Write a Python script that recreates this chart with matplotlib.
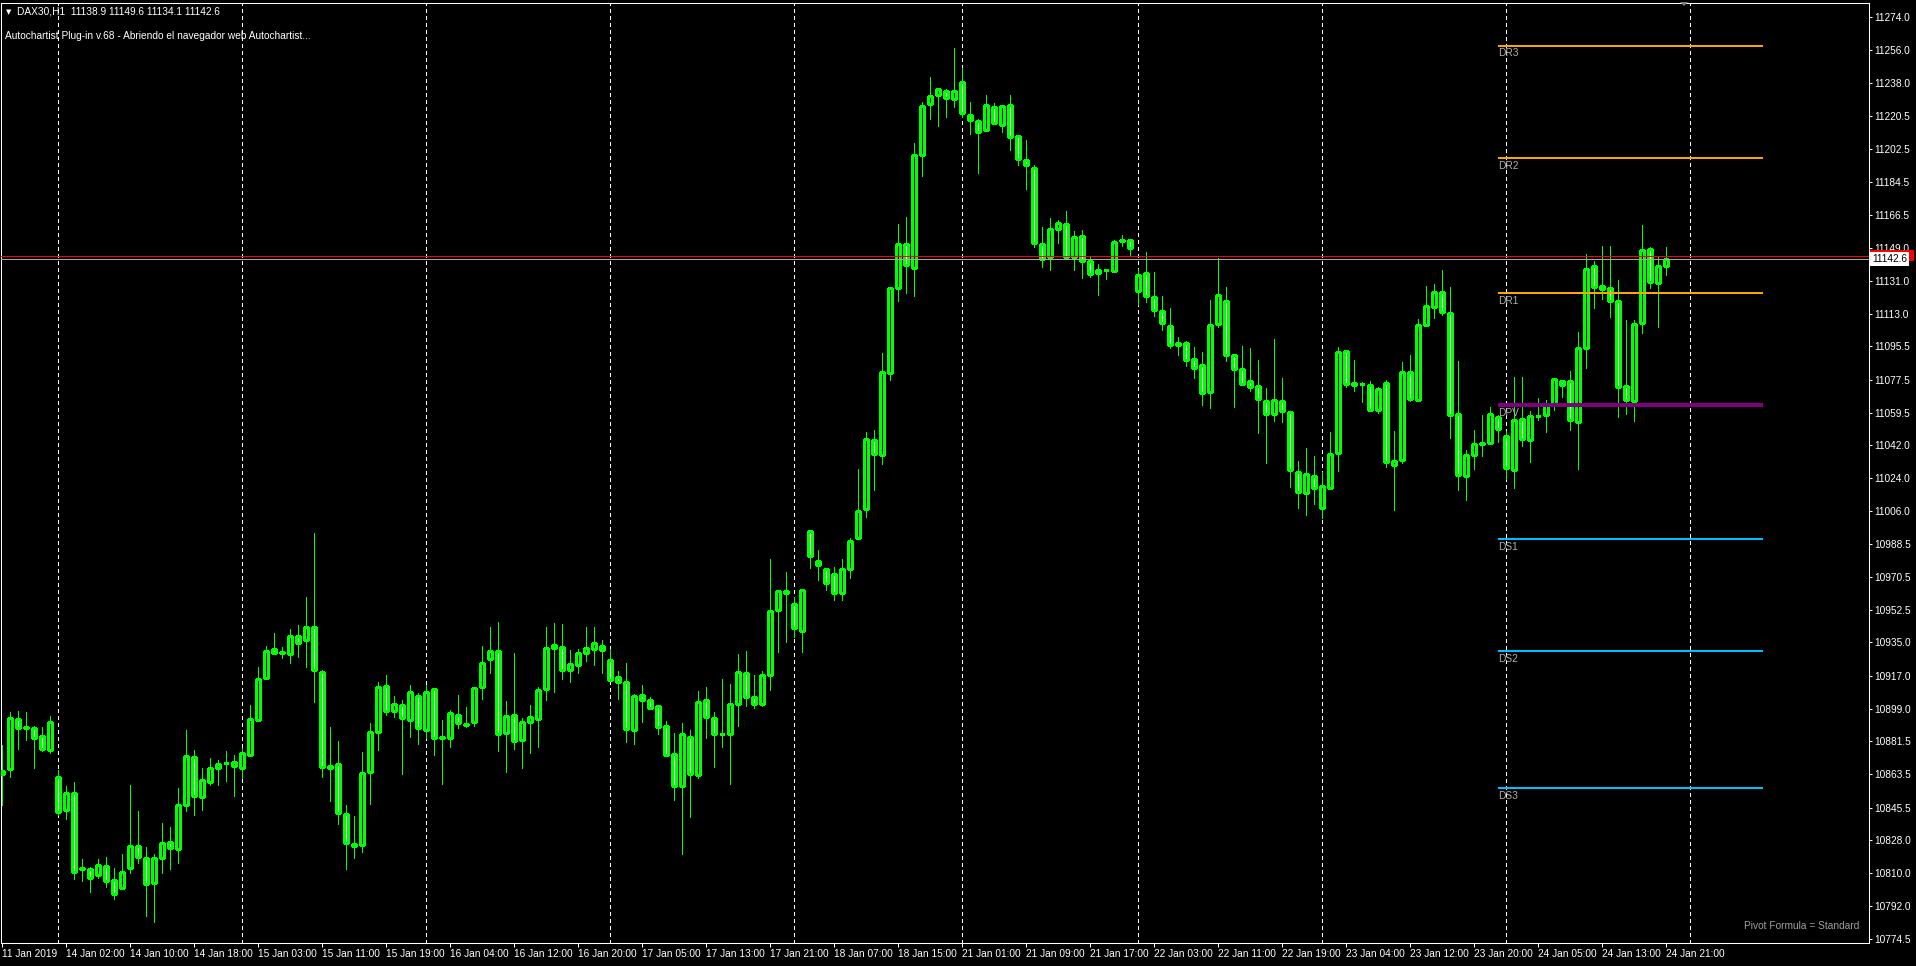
import numpy as np
import matplotlib.pyplot as plt
from matplotlib.patches import Rectangle
from matplotlib.transforms import blended_transform_factory

plt.rcParams['font.family'] = ['Liberation Sans', 'DejaVu Sans']

W, H = 1916, 966

# DAX30 H1 candles, 11 Jan 2019 16:00 .. 24 Jan 2019 21:00
opens = [
    10863.5, 10866.2, 10893.3, 10889.2, 10888.5, 10884.1, 10876.5, 10861.9, 10844.0, 10853.2,
    10812.6, 10812.0, 10809.1, 10813.6, 10806.1, 10801.7, 10812.6, 10824.5, 10818.0, 10804.4,
    10818.0, 10826.6, 10822.9, 10846.7, 10872.7, 10851.0, 10859.5, 10866.8, 10869.4, 10867.8,
    10867.1, 10873.8, 10892.8, 10915.6, 10931.3, 10929.6, 10928.6, 10938.3, 10936.1, 10943.2,
    10918.8, 10867.8, 10868.9, 10841.8, 10825.6, 10825.0, 10864.6, 10886.3, 10911.2, 10897.7,
    10900.9, 10893.2, 10906.2, 10887.6, 10909.6, 10883.6, 10883.4, 10895.9, 10890.6, 10891.7,
    10910.8, 10925.9, 10930.1, 10885.8, 10895.9, 10881.9, 10891.7, 10893.5, 10909.6, 10932.2,
    10932.7, 10920.3, 10922.6, 10929.5, 10931.5, 10933.0, 10925.6, 10916.1, 10913.7, 10887.6,
    10906.3, 10903.9, 10900.3, 10889.9, 10874.8, 10857.2, 10884.0, 10863.2, 10903.9, 10893.8,
    10885.5, 10885.5, 10901.8, 10918.2, 10905.7, 10901.8, 10917.6, 10952.4, 10961.9, 10955.9,
    10941.4, 10995.2, 10979.4, 10974.9, 10972.0, 10962.0, 10975.0, 10991.4, 11007.1, 11044.5,
    11036.4, 11081.0, 11126.9, 11150.8, 11137.8, 11199.0, 11226.7, 11231.5, 11233.7, 11229.4,
    11238.6, 11220.7, 11217.4, 11212.6, 11225.0, 11215.3, 11226.1, 11209.3, 11196.3, 11192.0,
    11150.8, 11143.7, 11158.9, 11161.6, 11143.7, 11155.1, 11141.6, 11135.1, 11137.1, 11136.1,
    11152.9, 11153.0, 11125.3, 11135.1, 11122.1, 11114.5, 11106.3, 11096.0, 11097.1, 11088.5,
    11085.2, 11070.5, 11107.4, 11119.9, 11090.6, 11083.0, 11076.5, 11073.8, 11065.9, 11058.6,
    11065.7, 11059.7, 11027.2, 11015.8, 11025.0, 11008.0, 11018.5, 11037.5, 11092.8, 11075.4,
    11075.2, 11074.3, 11061.2, 11075.4, 11031.0, 11033.7, 11081.4, 11066.2, 11106.9, 11116.6,
    11124.8, 11113.4, 11058.6, 11025.0, 11036.4, 11043.0, 11042.9, 11057.0, 11046.7, 11028.3,
    11055.9, 11044.5, 11057.8, 11058.1, 11064.1, 11076.5, 11076.5, 11054.3, 11094.4, 11138.8,
    11128.0, 11126.9, 11119.9, 11073.8, 11065.7, 11108.0, 11148.1, 11129.6, 11138.9,
]
highs = [
    10879.4, 10897.3, 10897.8, 10897.3, 10889.7, 10889.2, 10895.1, 10865.9, 10857.2, 10859.4,
    10817.6, 10813.5, 10817.6, 10818.7, 10812.7, 10820.3, 10857.7, 10843.6, 10824.1, 10820.3,
    10837.3, 10835.0, 10856.1, 10887.5, 10876.7, 10866.9, 10872.6, 10871.3, 10876.2, 10874.0,
    10877.6, 10901.1, 10921.7, 10933.1, 10939.9, 10932.5, 10942.3, 10944.5, 10959.6, 10994.3,
    10920.1, 10889.2, 10881.6, 10846.9, 10840.9, 10875.6, 10891.3, 10913.6, 10917.3, 10906.0,
    10903.8, 10911.9, 10907.5, 10911.9, 10910.2, 10892.9, 10898.3, 10906.6, 10900.0, 10910.8,
    10933.0, 10943.5, 10946.1, 10903.3, 10929.2, 10894.1, 10901.2, 10910.8, 10943.5, 10945.5,
    10945.0, 10931.0, 10931.5, 10943.5, 10943.5, 10936.3, 10931.5, 10919.7, 10923.8, 10907.2,
    10911.9, 10905.7, 10900.3, 10892.3, 10885.8, 10891.1, 10887.6, 10908.7, 10910.8, 10897.1,
    10915.2, 10912.5, 10928.6, 10930.4, 10917.6, 10919.7, 10980.3, 10963.1, 10973.2, 10959.8,
    10963.7, 10995.2, 10985.1, 10974.9, 10976.0, 10980.0, 10991.4, 11029.0, 11048.9, 11050.1,
    11091.9, 11126.9, 11161.8, 11165.6, 11205.7, 11227.9, 11241.5, 11234.8, 11234.8, 11257.2,
    11246.4, 11227.9, 11218.5, 11231.7, 11227.4, 11225.6, 11231.7, 11209.3, 11207.3, 11193.8,
    11160.0, 11165.1, 11164.0, 11168.9, 11158.0, 11158.5, 11143.7, 11139.9, 11137.6, 11153.1,
    11155.8, 11153.0, 11137.2, 11146.6, 11135.6, 11122.6, 11116.3, 11100.4, 11098.2, 11095.0,
    11092.3, 11120.4, 11143.2, 11127.5, 11090.6, 11095.7, 11094.6, 11088.1, 11072.9, 11099.5,
    11078.3, 11060.4, 11033.3, 11040.4, 11036.1, 11027.6, 11049.1, 11095.1, 11092.8, 11087.9,
    11076.3, 11076.7, 11073.3, 11077.1, 11049.6, 11086.8, 11090.6, 11110.5, 11128.0, 11129.3,
    11136.9, 11127.5, 11087.4, 11039.1, 11050.3, 11058.3, 11062.6, 11058.1, 11049.8, 11078.7,
    11078.7, 11060.4, 11067.3, 11066.2, 11078.1, 11076.5, 11081.9, 11103.1, 11145.4, 11141.6,
    11149.7, 11149.7, 11131.4, 11109.8, 11109.6, 11161.1, 11149.1, 11144.3, 11149.6,
]
lows = [
    10846.9, 10862.3, 10877.4, 10882.1, 10867.1, 10876.3, 10875.3, 10841.5, 10839.5, 10806.8,
    10805.9, 10799.9, 10807.5, 10802.6, 10796.1, 10801.7, 10809.9, 10815.6, 10786.9, 10783.7,
    10809.9, 10812.4, 10815.6, 10843.8, 10841.7, 10844.4, 10857.9, 10857.9, 10860.1, 10851.9,
    10861.3, 10873.8, 10892.8, 10915.6, 10929.1, 10926.8, 10924.0, 10927.3, 10921.9, 10902.9,
    10862.2, 10849.2, 10836.4, 10812.4, 10818.3, 10821.6, 10847.6, 10876.9, 10895.9, 10894.8,
    10863.9, 10883.9, 10880.2, 10883.4, 10873.9, 10858.1, 10878.1, 10888.5, 10889.0, 10889.9,
    10904.2, 10918.2, 10876.0, 10864.7, 10877.2, 10866.8, 10875.1, 10878.6, 10903.6, 10908.4,
    10915.2, 10913.7, 10918.2, 10924.7, 10922.9, 10918.2, 10914.9, 10904.5, 10881.0, 10879.8,
    10891.7, 10898.9, 10885.2, 10874.2, 10849.8, 10820.1, 10840.3, 10861.4, 10883.1, 10867.6,
    10878.1, 10858.1, 10889.9, 10900.3, 10899.4, 10900.3, 10909.0, 10929.6, 10935.2, 10938.1,
    10929.6, 10975.3, 10968.7, 10963.4, 10958.0, 10958.0, 10970.0, 10990.9, 11003.2, 11017.6,
    11031.9, 11077.4, 11120.2, 11124.6, 11122.9, 11188.0, 11218.9, 11215.1, 11220.0, 11225.4,
    11219.6, 11210.8, 11189.6, 11212.6, 11216.4, 11211.9, 11202.1, 11194.0, 11181.0, 11149.5,
    11138.7, 11137.0, 11151.7, 11143.0, 11137.0, 11132.7, 11133.2, 11123.5, 11132.2, 11135.6,
    11150.1, 11144.8, 11117.7, 11119.3, 11111.8, 11104.2, 11094.4, 11090.6, 11084.7, 11078.5,
    11063.5, 11061.9, 11106.1, 11087.4, 11062.4, 11074.9, 11071.3, 11048.7, 11032.4, 11054.8,
    11054.5, 11019.1, 11008.0, 11004.0, 11010.0, 11002.6, 11018.5, 11028.1, 11073.6, 11071.1,
    11065.5, 11060.3, 11059.5, 11029.9, 11007.0, 11032.3, 11065.7, 11066.2, 11106.9, 11110.7,
    11112.3, 11046.0, 11017.4, 11012.0, 11028.8, 11035.9, 11042.4, 11043.5, 11023.6, 11018.5,
    11041.7, 11032.6, 11055.6, 11048.9, 11060.8, 11068.2, 11050.3, 11028.8, 11083.9, 11116.1,
    11121.0, 11111.6, 11057.4, 11058.6, 11055.2, 11102.5, 11126.9, 11106.1, 11134.1,
]
closes = [
    10865.3, 10893.9, 10888.8, 10888.9, 10883.4, 10877.1, 10891.7, 10842.9, 10853.2, 10810.4,
    10812.0, 10807.1, 10814.2, 10805.5, 10798.5, 10810.4, 10824.5, 10818.5, 10803.9, 10818.0,
    10826.1, 10823.4, 10846.7, 10873.3, 10851.6, 10860.3, 10866.8, 10868.9, 10869.6, 10870.0,
    10874.9, 10893.3, 10915.0, 10930.2, 10929.1, 10929.4, 10938.3, 10934.5, 10943.5, 10919.9,
    10867.3, 10866.8, 10842.4, 10826.1, 10824.5, 10864.0, 10886.3, 10910.7, 10897.7, 10901.5,
    10893.9, 10908.0, 10888.5, 10908.4, 10883.1, 10883.2, 10896.5, 10891.4, 10890.4, 10910.2,
    10924.1, 10930.1, 10885.5, 10895.3, 10881.6, 10892.0, 10894.4, 10909.0, 10932.2, 10933.6,
    10920.3, 10923.2, 10929.2, 10931.9, 10934.5, 10931.0, 10914.9, 10913.7, 10888.2, 10906.0,
    10903.9, 10899.7, 10889.3, 10874.2, 10857.2, 10885.2, 10863.8, 10902.8, 10894.4, 10885.5,
    10885.5, 10901.8, 10918.8, 10905.4, 10901.5, 10917.3, 10951.8, 10963.1, 10963.1, 10942.9,
    10963.7, 10981.8, 10977.0, 10967.2, 10962.0, 10975.0, 10990.0, 11006.1, 11045.1, 11036.9,
    11081.4, 11126.9, 11150.8, 11139.4, 11199.0, 11225.6, 11231.0, 11234.8, 11229.9, 11233.7,
    11221.8, 11218.0, 11211.5, 11226.1, 11216.4, 11225.6, 11208.8, 11196.9, 11193.6, 11151.3,
    11143.0, 11158.9, 11162.3, 11143.7, 11154.6, 11141.6, 11134.5, 11136.7, 11136.9, 11151.9,
    11152.7, 11148.6, 11134.0, 11122.6, 11115.0, 11107.9, 11096.0, 11097.1, 11087.9, 11083.6,
    11070.0, 11106.9, 11123.1, 11090.6, 11083.0, 11075.3, 11073.3, 11066.8, 11059.0, 11066.2,
    11060.3, 11028.3, 11016.4, 11026.3, 11018.5, 11019.6, 11036.9, 11092.3, 11074.9, 11074.3,
    11075.0, 11061.2, 11072.2, 11032.6, 11033.2, 11081.4, 11066.8, 11106.9, 11117.2, 11124.8,
    11113.9, 11058.1, 11025.6, 11036.4, 11042.4, 11042.8, 11058.6, 11050.5, 11029.4, 11055.4,
    11045.1, 11057.6, 11057.6, 11064.1, 11077.6, 11074.3, 11055.4, 11094.4, 11137.2, 11127.5,
    11126.4, 11119.9, 11073.3, 11066.2, 11107.4, 11147.5, 11130.2, 11138.8, 11142.6,
]

# day separators (first bar of each day) and time labels (every 8th bar)
day_starts = [7, 30, 53, 76, 99, 120, 142, 165, 188, 211]
time_labels = [
    "11 Jan 2019", "14 Jan 02:00", "14 Jan 10:00", "14 Jan 18:00", "15 Jan 03:00",
    "15 Jan 11:00", "15 Jan 19:00", "16 Jan 04:00", "16 Jan 12:00", "16 Jan 20:00",
    "17 Jan 05:00", "17 Jan 13:00", "17 Jan 21:00", "18 Jan 07:00", "18 Jan 15:00",
    "21 Jan 01:00", "21 Jan 09:00", "21 Jan 17:00", "22 Jan 03:00", "22 Jan 11:00",
    "22 Jan 19:00", "23 Jan 04:00", "23 Jan 12:00", "23 Jan 20:00", "24 Jan 05:00",
    "24 Jan 13:00", "24 Jan 21:00",
]
price_ticks = [
    11274.0, 11256.0, 11238.0, 11220.5, 11202.5, 11184.5, 11166.5, 11149.0, 11131.0,
    11113.0, 11095.5, 11077.5, 11059.5, 11042.0, 11024.0, 11006.0, 10988.5, 10970.5,
    10952.5, 10935.0, 10917.0, 10899.0, 10881.5, 10863.5, 10845.5, 10828.0, 10810.0,
    10792.0, 10774.5,
]

# daily pivot levels (standard formula)
pivot_names = ["DR3", "DR2", "DR1", "DPV", "DS1", "DS2", "DS3"]
pivot_levels = [11258.5, 11197.7, 11124.4, 11063.5, 10991.1, 10930.2, 10856.0]
pivot_colors = ["#FFA500", "#FFA500", "#FFA500", "#800080", "#00BFFF", "#00BFFF", "#00BFFF"]

bid = closes[-1]
ask = 11144.6

GREEN = "#00FF00"
PX = 0.72  # one pixel in points at 100 dpi

fig = plt.figure(figsize=(W / 100, H / 100), dpi=100, facecolor="black")
ax = fig.add_axes([1 / W, (H - 943) / H, 1868 / W, 940 / H])
ax.set_facecolor("black")
ax.set_xlim(-0.16, 233.34)
ax.set_ylim(10772.1, 11281.6)

x = np.arange(len(opens))
o = np.array(opens)
c = np.array(closes)
hi = np.array(highs)
lo = np.array(lows)

# wicks
ax.vlines(x, lo, hi, color=GREEN, lw=PX, zorder=2, antialiased=False)
# bodies: bearish filled white, bullish hollow (black)
bottom = np.minimum(o, c)
height = np.maximum(np.abs(c - o), 0.05)
face = np.where(c < o, "white", "black")
ax.bar(x, height, bottom=bottom, width=0.5, color=face, edgecolor=GREEN,
       linewidth=0.8, zorder=3, antialiased=False)

# period separators
for d in day_starts:
    ax.axvline(d, color="white", lw=PX, ls=(0, (3, 3)), zorder=1, antialiased=False)

# ask / bid lines
ax.axhline(ask, color="#FF0000", lw=PX, zorder=4, antialiased=False)
ax.axhline(bid, color="#A8A8A8", lw=PX, zorder=4, antialiased=False)

# pivot lines
for name, lvl, col in zip(pivot_names, pivot_levels, pivot_colors):
    lw = 1.6 if name == "DPV" else 1.1
    ax.hlines(lvl, 187.0, 220.1, color=col, lw=lw, zorder=5, antialiased=False)
    ax.annotate(name, (187.0, lvl), xytext=(0, -2), textcoords="offset points",
                ha="left", va="top", color="#B0B0B0", fontsize=7.3, zorder=6)

# axes styling
for sp in ax.spines.values():
    sp.set_color("white")
    sp.set_linewidth(0.75)

ax.yaxis.tick_right()
ax.set_yticks(price_ticks)
ax.set_yticklabels([f"{v:.1f}" for v in price_ticks])
ax.tick_params(axis="y", colors="white", labelsize=7.3, length=2.5, width=0.75, pad=1.5)

ax.set_xticks(np.arange(0, 8 * len(time_labels), 8))
ax.set_xticklabels(time_labels)
ax.tick_params(axis="x", colors="white", labelsize=7.3, length=3, width=0.75, pad=1.5)
for lab in ax.get_xticklabels():
    lab.set_horizontalalignment("left")

# price tags on the axis: ask tag mostly hidden behind the bid tag
tr = blended_transform_factory(ax.transAxes, ax.transData)
ax.add_patch(Rectangle((1.0005, ask - 3.0), 44 / 1868, 6.2, transform=tr,
                       fc="#FF0000", ec="none", clip_on=False, zorder=7))
ax.text(1.0015, bid, f"{bid:.1f}", transform=tr, ha="left", va="center",
        fontsize=7.3, color="black", clip_on=False, zorder=8,
        bbox=dict(boxstyle="square,pad=0.2", fc="white", ec="none"))

# header texts
fig.text(6 / W, 1 - 12.5 / H, "\u25BC", color="white", fontsize=5,
         family="DejaVu Sans", ha="left", va="center")
fig.text(17 / W, 1 - 12 / H,
         f"DAX30,H1  {opens[-1]:.1f} {highs[-1]:.1f} {lows[-1]:.1f} {closes[-1]:.1f}",
         color="white", fontsize=7.3, ha="left", va="center")
fig.text(5 / W, 1 - 36 / H,
         "Autochartist Plug-in v.68 - Abriendo el navegador web Autochartist...",
         color="white", fontsize=7.3, ha="left", va="center")
fig.text(1859 / W, 1 - 926 / H, "Pivot Formula = Standard", color="#A0A0A0",
         fontsize=7.3, ha="right", va="center")

# chart shift marker
fig.patches.append(plt.Polygon([[1680 / W, 1 - 2 / H], [1688 / W, 1 - 2 / H], [1684 / W, 1 - 6 / H]],
                               closed=True, transform=fig.transFigure, fc="#808080", ec="none"))

fig.savefig("out.png", dpi=100, facecolor="black")
